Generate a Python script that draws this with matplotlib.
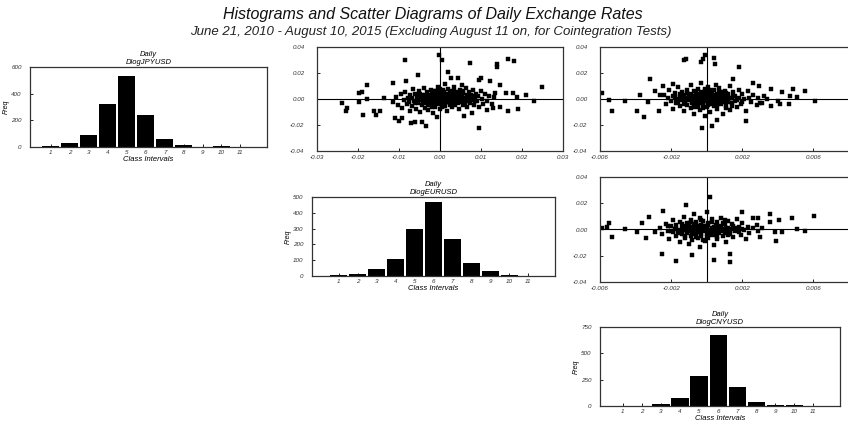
import numpy as np
import matplotlib
matplotlib.use("Agg")
import matplotlib.pyplot as plt

plt.rcParams['font.family'] = ['Liberation Sans', 'DejaVu Sans']
plt.rcParams['font.style'] = 'italic'

# histogram data (class intervals 1..11)
classes = np.arange(1, 12)
jpy_freq = [4, 27, 89, 320, 536, 238, 58, 17, 3, 4, 3]
eur_freq = [6, 10, 42, 109, 300, 468, 233, 80, 31, 8, 1]
cny_freq = [1, 1, 16, 79, 288, 677, 177, 38, 13, 6, 1]

# scatter points, in thousandths (x, y)
# top middle: DlogEURUSD (x) vs DlogJPYUSD (y)
eur_jpy_pts = [
    (-11.4, -2.1), (-10.7, 1.3), (-10.2, -4.6), (-9.6, 3.8), (-9.3, -7.2), (-8.8, -1.0), (-8.5, 5.2),
    (-8.1, -3.9), (-7.7, 0.6), (-7.4, -9.1), (-7.2, 2.7), (-6.9, -5.5), (-6.6, 7.4), (-6.3, -1.8),
    (-6.1, 4.1), (-5.8, -7.9), (-5.6, 0.2), (-5.3, -3.3), (-5.1, 6.0), (-4.9, -10.2), (-4.7, 1.9),
    (-4.5, -5.0), (-4.3, 3.4), (-4.1, -1.2), (-3.9, 8.3), (-3.7, -6.8), (-3.5, 0.9), (-3.3, -3.0),
    (-3.1, 5.1), (-2.9, -8.6), (-2.8, 2.3), (-2.6, -0.4), (-2.4, -4.7), (-2.2, 7.0), (-2.0, -2.2),
    (-1.9, 3.9), (-1.7, -11.0), (-1.5, 0.1), (-1.3, -6.1), (-1.1, 5.8), (-1.0, -1.5), (-0.8, 2.8),
    (-0.6, -3.7), (-0.4, 9.6), (-0.3, 0.7), (-0.1, -7.5), (0.1, 4.4), (0.2, -0.9), (0.4, -4.2),
    (0.6, 1.6), (0.8, 6.7), (0.9, -2.6), (1.1, 11.2), (1.3, -5.6), (1.5, 3.1), (1.6, -0.2),
    (1.8, -9.0), (2.0, 7.9), (2.2, 1.0), (2.4, -3.4), (2.5, 4.8), (2.7, -1.7), (2.9, -6.4),
    (3.1, 2.2), (3.3, 9.0), (3.5, -0.6), (3.7, -4.4), (3.9, 5.6), (4.1, 0.4), (4.3, -2.9),
    (4.5, 3.5), (4.7, -7.8), (4.9, 7.2), (5.1, -1.1), (5.3, 1.8), (5.5, -4.9), (5.7, 4.6),
    (5.9, 0.0), (6.1, -2.4), (6.3, 8.5), (6.5, 2.6), (6.7, -6.0), (6.9, 0.9), (7.1, 5.0),
    (7.3, -3.1), (7.5, 3.0), (7.8, -0.8), (8.0, 6.9), (8.3, -4.5), (8.5, 1.5), (8.8, 4.2),
    (9.0, -1.9), (9.3, 2.4), (9.6, -6.5), (9.9, 6.1), (10.2, 0.3), (10.6, -3.6), (11.0, 4.0),
    (11.5, -1.3), (12.0, 2.0), (12.6, -4.2), (13.1, 1.2),
    (-3.0, 1.5), (-2.3, -1.0), (-1.6, 2.0), (-1.2, -2.8), (-0.5, 1.2), (0.0, -1.8), (0.3, 2.6),
    (0.7, -3.0), (1.2, 0.5), (1.9, -2.3), (2.3, 2.9), (2.8, 0.2), (3.4, -1.6), (3.8, 1.9),
    (4.4, -0.4), (5.0, 2.5), (-4.0, -2.5), (-3.6, 3.0), (-2.0, 0.5), (-0.9, -0.2), (0.5, 0.0),
    (1.4, 1.9), (2.1, -0.8), (3.0, -2.0), (4.0, 3.0), (-5.0, -0.5), (-1.8, -4.0), (0.9, -5.2),
    (2.6, 6.0), (-0.2, 5.2),
    (-4.6, -0.8), (-4.2, 1.1), (-3.8, -1.6), (-3.4, 2.1), (-3.2, -0.3), (-2.7, 0.8), (-2.5, -2.7),
    (-2.1, 3.1), (-1.8, -0.7), (-1.4, 1.0), (-1.2, 4.6), (-0.9, -3.3), (-0.7, 0.2), (-0.4, -1.2),
    (-0.2, 2.1), (0.0, 3.4), (0.2, -2.9), (0.4, 0.9), (0.7, -0.6), (0.9, 2.0), (1.0, -1.4),
    (1.3, 3.7), (1.5, -2.4), (1.7, 1.2), (2.0, -0.1), (2.2, 4.0), (2.4, -1.5), (2.6, 1.9),
    (2.9, -3.0), (3.2, 0.8), (3.5, 3.5), (3.7, -0.9), (4.0, 1.2), (4.2, -2.0), (4.6, 2.2),
    (4.8, -0.2), (5.2, 3.9), (5.4, -2.6), (5.8, 1.0), (6.2, -0.9), (6.6, 3.2), (7.0, -1.6),
    (7.4, 1.4), (-5.6, 2.8), (-6.2, -3.0), (-6.8, 0.5), (-3.0, -4.5), (-1.0, 6.5), (1.0, 5.5),
    (3.5, 6.5), (-2.0, -6.0), (0.5, -6.5), (2.5, -4.8), (5.6, 5.9), (-4.8, 4.2), (7.8, 2.4),
    (8.5, -1.5), (6.0, -4.0), (-7.5, -2.0), (0.0, 7.5),
    (-8.5, 29.7), (-0.3, 33.5), (0.6, 30.0), (7.4, 27.6), (13.9, 27.1), (14.0, 24.5), (16.7, 30.7),
    (18.0, 29.0), (24.8, 9.5), (20.9, 3.4), (22.9, -1.8), (19.0, -7.5), (16.7, -9.5), (9.4, -22.0),
    (-3.4, -21.0), (-23.9, -2.8), (-23.0, -9.3), (-22.7, -7.2), (-18.9, -12.6), (-19.8, -2.6),
    (-19.8, 4.9), (-19.0, 5.4), (-17.8, 10.6), (-17.7, 0.0), (-16.0, -9.3), (-15.6, -12.0),
    (-14.6, -9.3), (-13.7, 0.8), (-11.5, 12.6), (-10.9, -14.7), (-10.1, -17.0), (-9.2, -15.0),
    (-8.3, 14.2), (-7.1, -18.3), (-6.1, -17.5), (-5.4, 18.3), (-4.4, -18.0), (-0.8, -13.7),
    (2.7, 16.0), (4.5, 16.0), (5.4, 10.6), (9.4, 14.7), (10.1, 16.0), (12.2, 13.7), (14.6, 10.8),
    (13.3, 4.4), (16.2, 4.9), (17.8, 4.4), (18.8, 1.8), (13.0, -7.2), (14.6, -6.0), (11.5, -8.5),
    (5.9, -13.2), (7.9, -11.0), (2.0, 20.4),
]

# top right: DlogCNYUSD (x) vs DlogJPYUSD (y)
cny_jpy_pts = [
    (-2.4, 3.1), (-2.3, -4.0), (-2.2, 0.5), (-2.1, 6.8), (-2.0, -1.9), (-1.9, 2.2), (-1.9, -7.4),
    (-1.8, 4.9), (-1.7, -3.1), (-1.7, 0.0), (-1.6, 8.9), (-1.5, -5.6), (-1.5, 1.7), (-1.4, -1.1),
    (-1.4, 5.5), (-1.3, -9.2), (-1.3, 3.0), (-1.2, -2.6), (-1.2, 0.9), (-1.1, 7.1), (-1.1, -4.8),
    (-1.0, 2.4), (-1.0, -0.6), (-0.9, 10.4), (-0.9, -6.9), (-0.9, 4.2), (-0.8, -2.0), (-0.8, 1.3),
    (-0.7, -11.3), (-0.7, 6.1), (-0.7, -3.9), (-0.6, 0.3), (-0.6, 3.6), (-0.5, -1.4), (-0.5, 8.0),
    (-0.5, -5.9), (-0.4, 2.0), (-0.4, -0.2), (-0.4, -8.5), (-0.3, 5.0), (-0.3, -2.9), (-0.3, 12.4),
    (-0.2, 1.1), (-0.2, -4.4), (-0.2, 3.3), (-0.1, -1.0), (-0.1, 7.6), (-0.1, -13.0), (0.0, 0.6),
    (0.0, -6.3), (0.0, 4.5), (0.1, -2.4), (0.1, 2.7), (0.1, 9.5), (0.2, -0.7), (0.2, -9.9),
    (0.2, 5.9), (0.3, 1.6), (0.3, -3.6), (0.3, -0.1), (0.4, 6.9), (0.4, -5.1), (0.4, 3.0),
    (0.5, -1.8), (0.5, 11.0), (0.5, 0.8), (0.6, -7.7), (0.6, 4.0), (0.6, -2.8), (0.7, 1.9),
    (0.7, 8.4), (0.7, -0.5), (0.8, -4.2), (0.8, 5.3), (0.9, -11.6), (0.9, 0.2), (0.9, 2.9),
    (1.0, -2.1), (1.0, 6.5), (1.1, -5.7), (1.1, 1.2), (1.2, 3.8), (1.2, -0.9), (1.3, -8.3),
    (1.3, 9.8), (1.4, 0.4), (1.4, -3.2), (1.5, 5.0), (1.6, -1.5), (1.6, 2.3), (1.7, -6.4),
    (1.8, 7.3), (1.8, 0.7), (1.9, -3.8), (2.0, 3.5), (2.1, -0.3), (2.2, -9.4), (2.3, 5.8),
    (2.4, 1.0), (2.5, -2.5), (2.6, 3.0), (2.8, -5.0), (2.9, 0.5), (3.1, -3.0), (3.2, 2.0),
    (-0.6, -1.0), (-0.3, 0.8), (0.0, -1.6), (0.2, 1.4), (0.4, -0.6), (-0.8, 0.5), (0.6, 0.9),
    (-0.2, -3.1), (0.3, 2.4), (-1.1, 1.0), (1.0, -0.4), (-0.5, -3.5), (0.8, -2.3), (-0.1, 3.8),
    (-1.2, -1.6), (-1.0, 3.3), (-0.9, -0.1), (-0.8, -3.2), (-0.7, 2.3), (-0.6, 5.1), (-0.5, 0.4),
    (-0.4, -2.5), (-0.3, 1.9), (-0.2, -0.6), (-0.1, 6.3), (0.0, 2.0), (0.1, -4.8), (0.2, 0.3),
    (0.3, 4.2), (0.4, -1.3), (0.5, 2.1), (0.6, -4.6), (0.7, 3.5), (0.8, 0.0), (0.9, -1.5),
    (1.0, 1.8), (1.1, 4.6), (1.2, -2.6), (1.3, 0.8), (1.4, -5.2), (-1.4, 0.6), (-1.3, -4.1),
    (-1.1, 4.5), (-0.9, 1.7), (-0.6, -5.0), (-0.2, -7.0), (0.0, -0.3), (0.2, 7.1), (0.5, -3.0),
    (1.5, 2.6), (1.7, -1.0), (-1.6, -2.3), (-1.8, 1.4), (2.0, -2.0), (-0.4, 3.9), (0.7, 5.9),
    (-0.7, -6.0), (1.1, -7.0), (-1.5, 3.5),
    (-5.9, 4.6), (-5.5, -0.5), (-5.3, -9.0), (-4.6, -1.8), (-3.9, -9.0), (-3.75, 3.4), (-3.5, -13.9),
    (-3.2, 15.0), (-3.3, -2.6), (-2.9, 6.5), (-2.7, -9.0), (-2.6, 3.4), (-2.45, 9.8), (-1.9, 11.9),
    (-1.3, 29.9), (-1.15, 30.4), (-0.3, 28.4), (-0.2, 30.4), (-0.1, 33.5), (0.4, 31.2), (0.45, 27.1),
    (-0.26, -22.5), (0.3, -20.4), (0.6, -16.0), (1.8, 24.8), (1.5, 15.5), (2.2, -16.8), (2.6, 12.6),
    (2.95, 10.3), (3.6, 7.7), (3.6, -5.7), (4.0, -1.3), (4.1, -3.6), (4.25, 5.4), (4.6, -3.6),
    (4.7, 2.6), (4.85, 7.7), (5.1, 1.3), (5.55, 6.5), (6.1, -1.3), (3.4, 0.0), (3.0, -3.1),
]

# middle right: DlogCNYUSD (x) vs DlogEURUSD (y)
cny_eur_pts = [
    (-2.6, 1.2), (-2.5, -3.3), (-2.3, 4.4), (-2.2, -0.8), (-2.1, -7.0), (-2.0, 2.6), (-1.9, -2.2),
    (-1.9, 7.5), (-1.8, 0.3), (-1.7, -5.1), (-1.7, 3.7), (-1.6, -1.4), (-1.5, -9.6), (-1.5, 5.9),
    (-1.4, 1.0), (-1.4, -3.8), (-1.3, 9.7), (-1.3, -0.2), (-1.2, -6.4), (-1.2, 2.8), (-1.1, -2.7),
    (-1.1, 4.9), (-1.0, -11.2), (-1.0, 0.6), (-0.9, -4.6), (-0.9, 7.0), (-0.9, 2.0), (-0.8, -1.6),
    (-0.8, -8.0), (-0.7, 3.9), (-0.7, 0.1), (-0.7, 11.6), (-0.6, -3.0), (-0.6, 5.6), (-0.5, -0.9),
    (-0.5, -6.2), (-0.5, 1.8), (-0.4, 8.8), (-0.4, -2.1), (-0.4, -13.0), (-0.3, 3.2), (-0.3, -4.9),
    (-0.2, 0.4), (-0.2, 6.4), (-0.2, -1.3), (-0.1, -9.0), (-0.1, 2.5), (0.0, -3.4), (0.0, 13.3),
    (0.0, 0.9), (0.1, -6.8), (0.1, 4.6), (0.2, -0.5), (0.2, -2.6), (0.3, 7.8), (0.3, 1.5),
    (0.4, -4.1), (0.4, -11.5), (0.5, 3.3), (0.5, -1.1), (0.6, 5.4), (0.6, -7.6), (0.7, 0.2),
    (0.7, -2.9), (0.8, 9.1), (0.8, 2.2), (0.9, -5.3), (0.9, -0.4), (1.0, 4.0), (1.1, -2.0),
    (1.1, -9.8), (1.2, 1.3), (1.2, 6.6), (1.3, -3.6), (1.4, 0.0), (1.5, 3.0), (1.5, -6.0),
    (1.6, -1.2), (1.7, 8.0), (1.8, 1.8), (1.9, -3.9), (2.0, 4.8), (2.1, -0.6), (2.2, -7.5),
    (2.3, 2.2), (2.4, -2.4), (2.6, 0.8), (2.8, 3.5), (2.9, -1.5), (3.1, 1.0),
    (-0.6, -0.3), (-0.3, 1.2), (0.1, -1.8), (0.3, 0.6), (-1.0, -1.0), (0.6, 1.5), (-0.1, -0.4),
    (-0.8, 0.9), (0.4, -2.2), (-0.4, 2.6), (0.9, 0.6), (-1.2, 0.3),
    (-1.5, -0.6), (-1.3, 2.0), (-1.1, -1.8), (-1.0, 3.6), (-0.9, -0.2), (-0.8, -3.2), (-0.7, 1.5),
    (-0.6, 4.2), (-0.5, -2.0), (-0.4, 0.5), (-0.3, -3.8), (-0.2, 2.9), (-0.1, 0.9), (0.0, -1.1),
    (0.1, 3.6), (0.2, -4.4), (0.3, -0.2), (0.4, 2.0), (0.5, -3.1), (0.6, 0.4), (0.7, 3.0),
    (0.8, -1.4), (0.9, 4.9), (1.0, -2.5), (1.1, 1.0), (1.3, -1.1), (1.4, 3.9), (-1.7, 1.0),
    (-1.6, -3.0), (-1.4, 4.3), (-1.2, -4.9), (-0.9, 5.8), (-0.6, -5.5), (-0.3, 7.0), (0.0, -6.0),
    (0.3, 5.8), (0.6, -5.8), (1.0, 7.0), (1.2, -4.5), (1.6, 1.2), (1.8, -2.2), (-2.0, -1.0),
    (-2.2, 3.0), (2.0, 0.5), (-0.2, -8.0),
    (-5.9, 0.8), (-5.5, 4.7), (-5.6, 1.8), (-5.3, -5.5), (-4.6, 0.0), (-3.9, -1.6), (-3.65, 5.2),
    (-3.25, 9.9), (-3.4, -6.8), (-2.9, -2.1), (-2.5, -18.3), (-2.45, 14.4), (-1.7, -23.8),
    (-1.15, 18.3), (-0.8, -19.1), (0.2, 24.5), (0.4, -23.0), (1.3, -24.5), (1.3, -18.3),
    (2.0, 13.1), (2.6, 9.1), (2.9, 9.1), (3.0, -5.7), (3.55, 11.5), (3.55, 6.0), (4.05, 7.6),
    (3.85, -1.8), (3.9, -8.4), (4.25, -2.1), (4.8, 8.6), (5.1, 0.5), (5.5, -0.8), (6.05, 10.4),
]

W, H = 848, 423
fig = plt.figure(figsize=(W / 100, H / 100), dpi=100)


def axes_px(left, top, right, bottom):
    return fig.add_axes([left / W, 1 - bottom / H, (right - left) / W, (bottom - top) / H])


def style(ax):
    for s in ax.spines.values():
        s.set_color('#333333')
        s.set_linewidth(0.9)
    ax.tick_params(direction='in', length=2, width=0.6, labelsize=4.5, labelcolor='#333333')


def histogram(ax, freq, name, yticks):
    style(ax)
    ax.bar(classes, freq, width=0.9, color='black')
    ax.set_xlim(-0.2, 12.4)
    ax.set_ylim(0, yticks[-1])
    ax.set_xticks(classes)
    ax.set_yticks(yticks)
    ax.tick_params(axis='y', pad=6)
    ax.tick_params(axis='x', pad=2)
    ax.set_title('Daily\n' + name, fontsize=5.5, pad=2, linespacing=1.2)
    ax.set_xlabel('Class Intervals', fontsize=5.5, labelpad=1)
    ax.set_ylabel('Freq', fontsize=5, labelpad=1)


def scatter(ax, pts, xlim, xticks, xfmt):
    style(ax)
    p = np.array(pts) / 1000
    ax.plot(p[:, 0], p[:, 1], 's', color='black', markersize=2.4,
            markeredgewidth=0.3, markeredgecolor='black')
    ax.axhline(0, color='black', lw=0.8)
    ax.axvline(0, color='black', lw=0.8)
    ax.set_xlim(*xlim)
    ax.set_ylim(-0.04, 0.04)
    ax.set_xticks(xticks)
    ax.set_xticklabels([xfmt.format(v) for v in xticks])
    ax.set_yticks([-0.04, -0.02, 0.0, 0.02, 0.04])
    ax.set_yticklabels(['-0.04', '-0.02', '0.00', '0.02', '0.04'])
    ax.tick_params(axis='y', pad=9)
    ax.tick_params(axis='x', pad=3)


ax1 = axes_px(30, 67, 267, 147)
histogram(ax1, jpy_freq, 'DlogJPYUSD', [0, 200, 400, 600])
ax1.set_xlim(-0.1, 12.4)

ax2 = axes_px(312, 197, 555, 276)
histogram(ax2, eur_freq, 'DlogEURUSD', [0, 100, 200, 300, 400, 500])
ax2.set_xlim(-0.4, 12.4)

ax3 = axes_px(600, 327, 840, 406)
histogram(ax3, cny_freq, 'DlogCNYUSD', [0, 250, 500, 750])

ax4 = axes_px(317, 47, 563, 151)
scatter(ax4, eur_jpy_pts, (-0.03, 0.03), [-0.03, -0.02, -0.01, 0.0, 0.01, 0.02, 0.03], '{:.2f}')

ax5 = axes_px(600, 47, 849, 151)
scatter(ax5, cny_jpy_pts, (-0.006, 0.008), [-0.006, -0.002, 0.002, 0.006], '{:.3f}')
ax5.spines['right'].set_visible(False)

ax6 = axes_px(600, 177, 849, 282)
scatter(ax6, cny_eur_pts, (-0.006, 0.008), [-0.006, -0.002, 0.002, 0.006], '{:.3f}')
ax6.spines['right'].set_visible(False)

fig.text(0.51, 1 - 14 / H, 'Histograms and Scatter Diagrams of Daily Exchange Rates',
         ha='center', va='center', fontsize=11.5, color='#111111')
fig.text(0.508, 1 - 32 / H,
         'June 21, 2010 - August 10, 2015 (Excluding August 11 on, for Cointegration Tests)',
         ha='center', va='center', fontsize=9.5, color='#222222')

fig.savefig('out.png', dpi=100)
